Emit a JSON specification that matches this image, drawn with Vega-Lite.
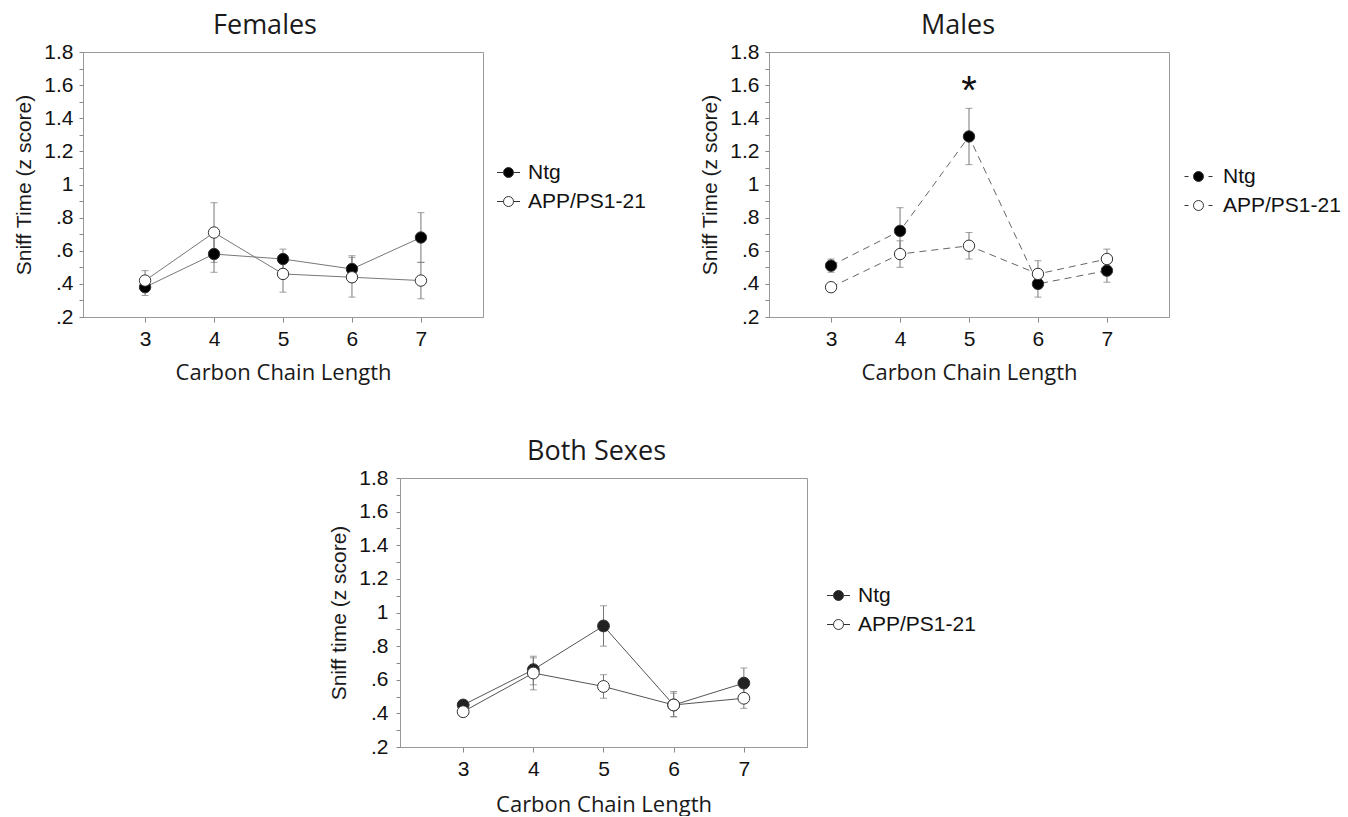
{
  "$schema": "https://vega.github.io/schema/vega-lite/v6.json",
  "autosize": {"type": "pad"},
  "padding": {"left": 13, "top": 11, "right": 0, "bottom": 0},
  "background": "white",
  "datasets": {
    "d": [
      {"panel": "F", "chain": 3, "group": "Ntg", "mean": 0.38, "lo": 0.33, "hi": 0.43},
      {"panel": "F", "chain": 4, "group": "Ntg", "mean": 0.58, "lo": 0.47, "hi": 0.69},
      {"panel": "F", "chain": 5, "group": "Ntg", "mean": 0.55, "lo": 0.49, "hi": 0.61},
      {"panel": "F", "chain": 6, "group": "Ntg", "mean": 0.49, "lo": 0.41, "hi": 0.57},
      {"panel": "F", "chain": 7, "group": "Ntg", "mean": 0.68, "lo": 0.53, "hi": 0.83},
      {"panel": "F", "chain": 3, "group": "APP/PS1-21", "mean": 0.42, "lo": 0.37, "hi": 0.48},
      {"panel": "F", "chain": 4, "group": "APP/PS1-21", "mean": 0.71, "lo": 0.53, "hi": 0.89},
      {"panel": "F", "chain": 5, "group": "APP/PS1-21", "mean": 0.46, "lo": 0.35, "hi": 0.57},
      {"panel": "F", "chain": 6, "group": "APP/PS1-21", "mean": 0.44, "lo": 0.32, "hi": 0.56},
      {"panel": "F", "chain": 7, "group": "APP/PS1-21", "mean": 0.42, "lo": 0.31, "hi": 0.53},
      {"panel": "M", "chain": 3, "group": "Ntg", "mean": 0.51, "lo": 0.47, "hi": 0.55},
      {"panel": "M", "chain": 4, "group": "Ntg", "mean": 0.72, "lo": 0.59, "hi": 0.86},
      {"panel": "M", "chain": 5, "group": "Ntg", "mean": 1.29, "lo": 1.12, "hi": 1.46},
      {"panel": "M", "chain": 6, "group": "Ntg", "mean": 0.40, "lo": 0.32, "hi": 0.48},
      {"panel": "M", "chain": 7, "group": "Ntg", "mean": 0.48, "lo": 0.41, "hi": 0.55},
      {"panel": "M", "chain": 3, "group": "APP/PS1-21", "mean": 0.38, "lo": 0.36, "hi": 0.40},
      {"panel": "M", "chain": 4, "group": "APP/PS1-21", "mean": 0.58, "lo": 0.50, "hi": 0.66},
      {"panel": "M", "chain": 5, "group": "APP/PS1-21", "mean": 0.63, "lo": 0.55, "hi": 0.71},
      {"panel": "M", "chain": 6, "group": "APP/PS1-21", "mean": 0.46, "lo": 0.38, "hi": 0.54},
      {"panel": "M", "chain": 7, "group": "APP/PS1-21", "mean": 0.55, "lo": 0.49, "hi": 0.61},
      {"panel": "B", "chain": 3, "group": "Ntg", "mean": 0.45, "lo": 0.43, "hi": 0.47},
      {"panel": "B", "chain": 4, "group": "Ntg", "mean": 0.66, "lo": 0.57, "hi": 0.74},
      {"panel": "B", "chain": 5, "group": "Ntg", "mean": 0.92, "lo": 0.80, "hi": 1.04},
      {"panel": "B", "chain": 6, "group": "Ntg", "mean": 0.45, "lo": 0.38, "hi": 0.52},
      {"panel": "B", "chain": 7, "group": "Ntg", "mean": 0.58, "lo": 0.50, "hi": 0.67},
      {"panel": "B", "chain": 3, "group": "APP/PS1-21", "mean": 0.41, "lo": 0.39, "hi": 0.43},
      {"panel": "B", "chain": 4, "group": "APP/PS1-21", "mean": 0.64, "lo": 0.54, "hi": 0.73},
      {"panel": "B", "chain": 5, "group": "APP/PS1-21", "mean": 0.56, "lo": 0.49, "hi": 0.63},
      {"panel": "B", "chain": 6, "group": "APP/PS1-21", "mean": 0.45, "lo": 0.38, "hi": 0.53},
      {"panel": "B", "chain": 7, "group": "APP/PS1-21", "mean": 0.49, "lo": 0.43, "hi": 0.55}
    ]
  },
  "spacing": 53,
  "resolve": {
    "scale": {"x": "independent", "y": "independent", "fill": "independent"},
    "axis": {"x": "independent", "y": "independent"},
    "legend": {"fill": "independent"}
  },
  "vconcat": [
    {
      "bounds": "flush",
      "spacing": 286,
      "resolve": {
        "scale": {"x": "independent", "y": "independent", "fill": "independent"},
        "axis": {"x": "independent", "y": "independent"},
        "legend": {"fill": "independent"}
      },
      "hconcat": [
        {
          "width": 400,
          "height": 265,
          "title": {"text": "Females", "dx": -18},
          "data": {"name": "d"},
          "transform": [{"filter": "datum.panel == 'F'"}],
          "encoding": {
            "x": {"field": "chain", "type": "quantitative", "scale": {"domain": [2.1, 7.9], "nice": false, "zero": false}, "axis": {"values": [3, 4, 5, 6, 7], "title": "Carbon Chain Length"}}
          },
          "layer": [
            {
              "mark": {"type": "line", "color": "#777777", "strokeWidth": 1},
              "encoding": {
                "y": {"field": "mean", "type": "quantitative", "title": "Sniff Time (z score)", "scale": {"domain": [0.2, 1.8], "nice": false, "zero": false}, "axis": {"values": [0.2, 0.3, 0.4, 0.5, 0.6, 0.7, 0.8, 0.9, 1.0, 1.1, 1.2, 1.3, 1.4, 1.5, 1.6, 1.7, 1.8], "labelOverlap": false, "labelBound": false, "labelExpr": "round(datum.value*10)%2==0 ? replace(format(datum.value,'.1~f'),'0.','.') : ''"}},
                "detail": {"field": "group"}
              }
            },
            {
              "mark": {"type": "errorbar", "ticks": {"size": 7, "color": "#777777", "thickness": 1}, "rule": {"color": "#777777", "strokeWidth": 1}},
              "encoding": {"y": {"field": "lo", "type": "quantitative", "title": "Sniff Time (z score)", "axis": {"values": [0.2, 0.3, 0.4, 0.5, 0.6, 0.7, 0.8, 0.9, 1.0, 1.1, 1.2, 1.3, 1.4, 1.5, 1.6, 1.7, 1.8], "labelOverlap": false, "labelBound": false, "labelExpr": "round(datum.value*10)%2==0 ? replace(format(datum.value,'.1~f'),'0.','.') : ''"}}, "y2": {"field": "hi"}}
            },
            {
              "mark": {"type": "point", "filled": true, "shape": "circle", "size": 130, "opacity": 1, "stroke": "#333333", "strokeWidth": 1},
              "encoding": {
                "y": {"field": "mean", "type": "quantitative", "title": "Sniff Time (z score)", "axis": {"values": [0.2, 0.3, 0.4, 0.5, 0.6, 0.7, 0.8, 0.9, 1.0, 1.1, 1.2, 1.3, 1.4, 1.5, 1.6, 1.7, 1.8], "labelOverlap": false, "labelBound": false, "labelExpr": "round(datum.value*10)%2==0 ? replace(format(datum.value,'.1~f'),'0.','.') : ''"}},
                "fill": {"field": "group", "type": "nominal", "scale": {"domain": ["Ntg", "APP/PS1-21"], "range": ["#000000", "#ffffff"]},
                  "legend": {"title": null, "orient": "none", "legendX": 415, "legendY": 110, "symbolType": "M-2.3,0L-1,0M1,0L2.3,0M1,0A1,1 0 1,1 -1,0A1,1 0 1,1 1,0Z"}}
              }
            }
          ]
        },
        {
          "width": 400,
          "height": 265,
          "title": {"text": "Males", "dx": -11},
          "data": {"name": "d"},
          "transform": [{"filter": "datum.panel == 'M'"}],
          "encoding": {
            "x": {"field": "chain", "type": "quantitative", "scale": {"domain": [2.1, 7.9], "nice": false, "zero": false}, "axis": {"values": [3, 4, 5, 6, 7], "title": "Carbon Chain Length"}}
          },
          "layer": [
            {
              "mark": {"type": "line", "color": "#666666", "strokeWidth": 1, "strokeDash": [7, 5]},
              "encoding": {
                "y": {"field": "mean", "type": "quantitative", "title": "Sniff Time (z score)", "scale": {"domain": [0.2, 1.8], "nice": false, "zero": false}, "axis": {"values": [0.2, 0.3, 0.4, 0.5, 0.6, 0.7, 0.8, 0.9, 1.0, 1.1, 1.2, 1.3, 1.4, 1.5, 1.6, 1.7, 1.8], "labelOverlap": false, "labelBound": false, "labelExpr": "round(datum.value*10)%2==0 ? replace(format(datum.value,'.1~f'),'0.','.') : ''"}},
                "detail": {"field": "group"}
              }
            },
            {
              "mark": {"type": "errorbar", "ticks": {"size": 7, "color": "#777777", "thickness": 1}, "rule": {"color": "#777777", "strokeWidth": 1}},
              "encoding": {"y": {"field": "lo", "type": "quantitative", "title": "Sniff Time (z score)", "axis": {"values": [0.2, 0.3, 0.4, 0.5, 0.6, 0.7, 0.8, 0.9, 1.0, 1.1, 1.2, 1.3, 1.4, 1.5, 1.6, 1.7, 1.8], "labelOverlap": false, "labelBound": false, "labelExpr": "round(datum.value*10)%2==0 ? replace(format(datum.value,'.1~f'),'0.','.') : ''"}}, "y2": {"field": "hi"}}
            },
            {
              "mark": {"type": "point", "filled": true, "shape": "circle", "size": 130, "opacity": 1, "stroke": "#333333", "strokeWidth": 1},
              "encoding": {
                "y": {"field": "mean", "type": "quantitative", "title": "Sniff Time (z score)", "axis": {"values": [0.2, 0.3, 0.4, 0.5, 0.6, 0.7, 0.8, 0.9, 1.0, 1.1, 1.2, 1.3, 1.4, 1.5, 1.6, 1.7, 1.8], "labelOverlap": false, "labelBound": false, "labelExpr": "round(datum.value*10)%2==0 ? replace(format(datum.value,'.1~f'),'0.','.') : ''"}},
                "fill": {"field": "group", "type": "nominal", "scale": {"domain": ["Ntg", "APP/PS1-21"], "range": ["#000000", "#ffffff"]},
                  "legend": {"title": null, "orient": "none", "legendX": 419, "legendY": 114, "labelOffset": 14, "symbolType": "M-2.8,0L-2,0M2,0L2.8,0M1,0A1,1 0 1,1 -1,0A1,1 0 1,1 1,0Z"}}
              }
            },
            {
              "data": {"values": [{"chain": 5, "y": 1.6, "label": "*"}]},
              "transform": [],
              "mark": {"type": "text", "font": "Liberation Sans", "fontSize": 40, "baseline": "middle", "align": "center", "dy": 7, "color": "#111111"},
              "encoding": {
                "y": {"field": "y", "type": "quantitative", "title": "Sniff Time (z score)", "axis": {"values": [0.2, 0.3, 0.4, 0.5, 0.6, 0.7, 0.8, 0.9, 1.0, 1.1, 1.2, 1.3, 1.4, 1.5, 1.6, 1.7, 1.8], "labelOverlap": false, "labelBound": false, "labelExpr": "round(datum.value*10)%2==0 ? replace(format(datum.value,'.1~f'),'0.','.') : ''"}},
                "text": {"field": "label"}
              }
            }
          ]
        }
      ]
    },
    {
      "bounds": "flush",
      "spacing": 20,
      "resolve": {
        "scale": {"x": "independent", "y": "independent", "fill": "independent"},
        "axis": {"x": "independent", "y": "independent"},
        "legend": {"fill": "independent"}
      },
      "hconcat": [
        {
          "width": 297,
          "height": 269,
          "view": {"stroke": null},
          "data": {"values": [{"t": ""}]},
          "mark": {"type": "text"},
          "encoding": {"text": {"field": "t"}}
        },
        {
          "width": 407,
          "height": 269,
          "title": {"text": "Both Sexes", "dx": -7},
          "data": {"name": "d"},
          "transform": [{"filter": "datum.panel == 'B'"}],
          "encoding": {
            "x": {"field": "chain", "type": "quantitative", "scale": {"domain": [2.1, 7.9], "nice": false, "zero": false}, "axis": {"values": [3, 4, 5, 6, 7], "title": "Carbon Chain Length", "titlePadding": 15}}
          },
          "layer": [
            {
              "mark": {"type": "line", "color": "#555555", "strokeWidth": 1},
              "encoding": {
                "y": {"field": "mean", "type": "quantitative", "title": "Sniff time (z score)", "scale": {"domain": [0.2, 1.8], "nice": false, "zero": false}, "axis": {"values": [0.2, 0.3, 0.4, 0.5, 0.6, 0.7, 0.8, 0.9, 1.0, 1.1, 1.2, 1.3, 1.4, 1.5, 1.6, 1.7, 1.8], "labelOverlap": false, "labelBound": false, "labelPadding": 8, "labelExpr": "round(datum.value*10)%2==0 ? replace(format(datum.value,'.1~f'),'0.','.') : ''"}},
                "detail": {"field": "group"}
              }
            },
            {
              "mark": {"type": "errorbar", "ticks": {"size": 7, "color": "#777777", "thickness": 1}, "rule": {"color": "#777777", "strokeWidth": 1}},
              "encoding": {"y": {"field": "lo", "type": "quantitative", "title": "Sniff time (z score)", "axis": {"values": [0.2, 0.3, 0.4, 0.5, 0.6, 0.7, 0.8, 0.9, 1.0, 1.1, 1.2, 1.3, 1.4, 1.5, 1.6, 1.7, 1.8], "labelOverlap": false, "labelBound": false, "labelPadding": 8, "labelExpr": "round(datum.value*10)%2==0 ? replace(format(datum.value,'.1~f'),'0.','.') : ''"}}, "y2": {"field": "hi"}}
            },
            {
              "mark": {"type": "point", "filled": true, "shape": "circle", "size": 140, "opacity": 1, "stroke": "#333333", "strokeWidth": 1},
              "encoding": {
                "y": {"field": "mean", "type": "quantitative", "title": "Sniff time (z score)", "axis": {"values": [0.2, 0.3, 0.4, 0.5, 0.6, 0.7, 0.8, 0.9, 1.0, 1.1, 1.2, 1.3, 1.4, 1.5, 1.6, 1.7, 1.8], "labelOverlap": false, "labelBound": false, "labelPadding": 8, "labelExpr": "round(datum.value*10)%2==0 ? replace(format(datum.value,'.1~f'),'0.','.') : ''"}},
                "fill": {"field": "group", "type": "nominal", "scale": {"domain": ["Ntg", "APP/PS1-21"], "range": ["#222222", "#ffffff"]},
                  "legend": {"title": null, "orient": "none", "legendX": 428, "legendY": 107, "symbolType": "M-2.3,0L-1,0M1,0L2.3,0M1,0A1,1 0 1,1 -1,0A1,1 0 1,1 1,0Z"}}
              }
            }
          ]
        }
      ]
    }
  ],
  "config": {
    "view": {"stroke": "#999999", "strokeWidth": 1},
    "title": {"font": "Open Sans", "fontSize": 27, "fontWeight": "normal", "color": "#1a1a1a", "anchor": "middle", "frame": "group", "offset": 1},
    "axis": {
      "grid": false,
      "domainColor": "#999999",
      "tickColor": "#888888",
      "tickSize": 4,
      "labelFont": "Liberation Sans",
      "labelFontSize": 21,
      "labelColor": "#111111",
      "labelPadding": 6,
      "labelOverlap": false,
      "titleColor": "#1a1a1a",
      "titleFontWeight": "normal"
    },
    "axisX": {"titleFont": "Open Sans", "titleFontSize": 22, "titlePadding": 13, "tickSize": 5, "labelPadding": 6, "labelFlush": false},
    "axisY": {"titleFont": "Liberation Sans", "titleFontSize": 21, "titlePadding": 9, "labelOverlap": false},
    "legend": {
      "labelFont": "Liberation Sans",
      "labelFontSize": 21,
      "labelColor": "#111111",
      "symbolSize": 100,
      "symbolStrokeColor": "#333333",
      "symbolStrokeWidth": 1,
      "labelOffset": 9,
      "rowPadding": 7,
      "padding": 0
    }
  }
}
